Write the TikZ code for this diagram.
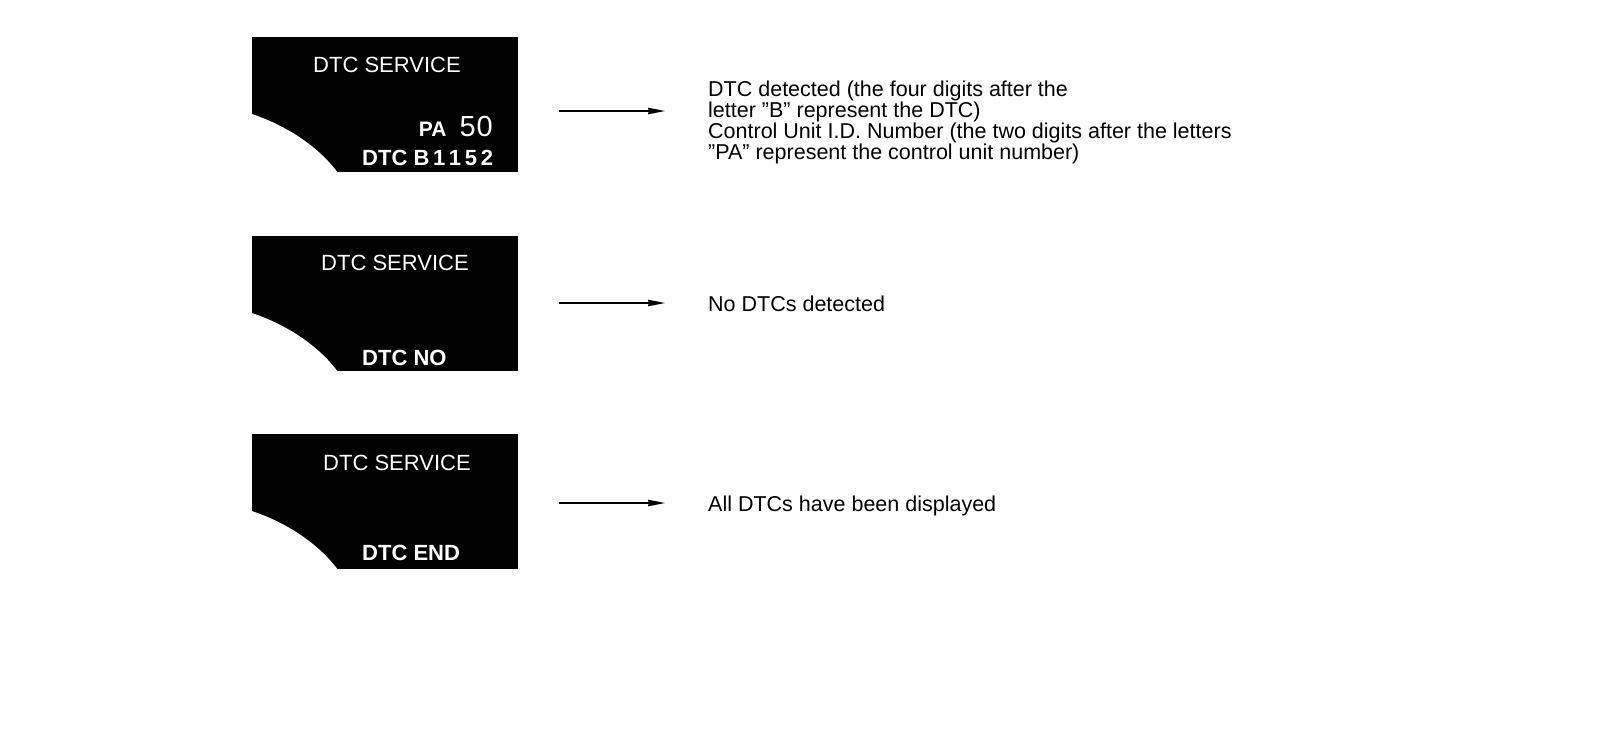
\documentclass[tikz,border=0pt]{standalone}
\usepackage{fontspec}
\setmainfont{Liberation Sans}
\usetikzlibrary{arrows.meta}

\begin{document}
\begin{tikzpicture}[
    x=1pt, y=-1pt,
    lcd/.style={
      fill=black, draw=none, inner sep=0pt,
      minimum width=266pt, minimum height=135pt
    },
    lcdtext/.style={text=white, inner sep=0pt, anchor=base west,
      font=\fontsize{22}{24}\selectfont},
    lcdcode/.style={lcdtext, font=\fontsize{22}{24}\selectfont\bfseries},
    note/.style={inner sep=0pt, align=left, font=\fontsize{21.5}{21}\selectfont},
    pointer/.style={-{Stealth[length=17pt, width=6.5pt, inset=1pt]},
      line width=1.1pt, shorten >=43pt},
  ]
    \useasboundingbox (0,0) rectangle (1600,734);

    % display with code
    \node[lcd] (disp1) at (385,104) {};
    \fill[white] ([shift={(-1,-58)}]disp1.south west)
      .. controls ([shift={(33,-47)}]disp1.south west) and ([shift={(66,-26)}]disp1.south west)
      .. ([shift={(86,1)}]disp1.south west) -- ([shift={(-1,1)}]disp1.south west) -- cycle;
    \node[lcdtext] (ser1) at (313,72.7) {DTC SERVICE};
    \node[lcdtext, anchor=base east] (unit1) at (493,136)
      {{\fontsize{21}{21}\selectfont\bfseries PA}\hspace{13pt}{\fontsize{29}{29}\selectfont 5\kern1pt 0}};
    \node[lcdcode] (code1) at (362,165) {DTC B\,1\,1\,5\,2};

    % display without code
    \node[lcd] (disp2) at (385,303) {};
    \fill[white] ([shift={(-1,-58)}]disp2.south west)
      .. controls ([shift={(33,-47)}]disp2.south west) and ([shift={(66,-26)}]disp2.south west)
      .. ([shift={(86,1)}]disp2.south west) -- ([shift={(-1,1)}]disp2.south west) -- cycle;
    \node[lcdtext] (ser2) at (321,270) {DTC SERVICE};
    \node[lcdcode] (code2) at (362,365) {DTC NO};

    % display at the end
    \node[lcd] (disp3) at (385,501) {};
    \fill[white] ([shift={(-1,-58)}]disp3.south west)
      .. controls ([shift={(33,-47)}]disp3.south west) and ([shift={(66,-26)}]disp3.south west)
      .. ([shift={(86,1)}]disp3.south west) -- ([shift={(-1,1)}]disp3.south west) -- cycle;
    \node[lcdtext] (ser3) at (323,470) {DTC SERVICE};
    \node[lcdcode] (code3) at (362,560) {DTC END};

    % notes
    \node[note, anchor=north west] (note1) at (708,81) {%
      DTC detected (the four digits after the\\
      letter ''B'' represent the DTC)\\
      Control Unit I.D. Number (the two digits after the letters\\
      ''PA'' represent the control unit number)};
    \node[note, anchor=base west] (note2) at (708,311) {No DTCs detected};
    \node[note, anchor=base west] (note3) at (708,511) {All DTCs have been displayed};

    \coordinate (s1) at (559,111);
    \coordinate (s2) at (559,303);
    \coordinate (s3) at (559,503);
    \draw[pointer] (s1) -- (s1 -| note1.west);
    \draw[pointer] (s2) -- (s2 -| note2.west);
    \draw[pointer] (s3) -- (s3 -| note3.west);
  \end{tikzpicture}
\end{document}
